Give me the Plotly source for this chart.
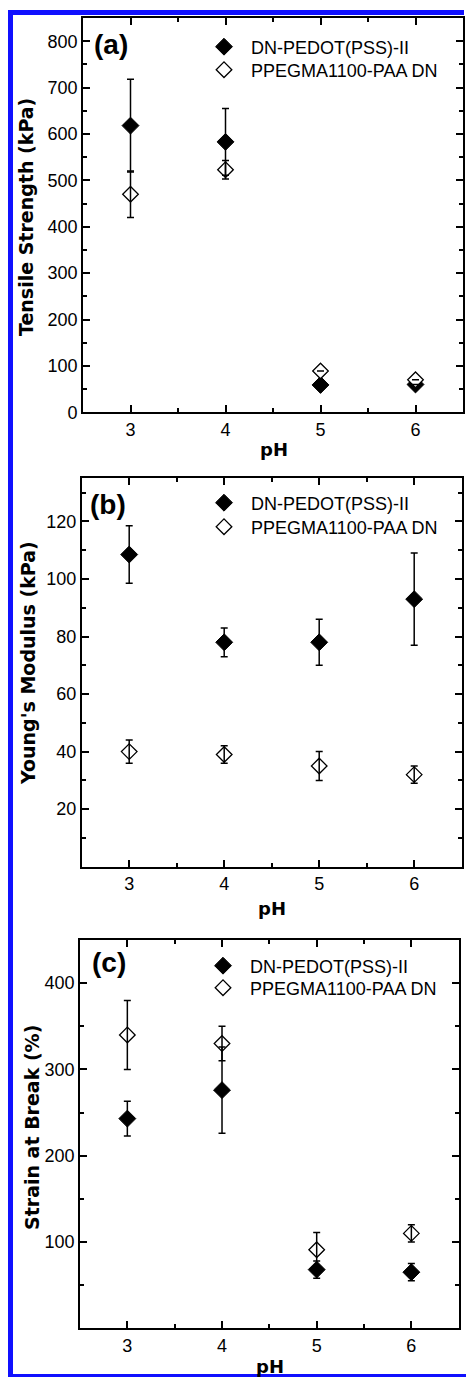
import plotly.graph_objects as go

# ---- data -------------------------------------------------------------
ph = [3, 4, 5, 6]

series_names = ["DN-PEDOT(PSS)-II", "PPEGMA1100-PAA DN"]

# (a) tensile strength, kPa
ts_pedot = [618, 583, 59, 60]
ts_pedot_err = [100, 72, 0, 0]
ts_ppeg = [470, 523, 89, 70]
ts_ppeg_err = [50, 20, 0, 0]

# (b) Young's modulus, kPa
ym_pedot = [108.5, 78, 78, 93]
ym_pedot_err = [10, 5, 8, 16]
ym_ppeg = [40, 39, 35, 32]
ym_ppeg_err = [4, 3, 5, 3]

# (c) strain at break, %
sb_pedot = [243, 276, 68, 65]
sb_pedot_err = [20, 50, 10, 10]
sb_ppeg = [340, 330, 91, 110]
sb_ppeg_err = [40, 20, 20, 10]

# axis settings per panel
x_ticks = [3, 4, 5, 6]
x_minor = [3.5, 4.5, 5.5]
y_titles = ["Tensile Strength (kPa)", "Young's Modulus (kPa)", "Strain at Break (%)"]
y_ranges = [[0, 850], [0, 135], [0, 450]]
y_ticks = [[0, 100, 200, 300, 400, 500, 600, 700, 800],
           [20, 40, 60, 80, 100, 120],
           [100, 200, 300, 400]]
y_minor = [[50, 150, 250, 350, 450, 550, 650, 750],
           [10, 30, 50, 70, 90, 110, 130],
           [50, 150, 250, 350]]
panel_tags = ["(a)", "(b)", "(c)"]

# ---- layout geometry (pixels) ----------------------------------------
W, H = 466, 1377
# plot boxes: left, right, top, bottom
boxes = [(83, 463, 18, 412.3), (81.7, 461.7, 478.3, 866.7), (80, 458.7, 940, 1328.3)]


def px(x):
    return x / W


def py(y):
    return 1 - y / H


SANS = "Liberation Sans, Arial, sans-serif"
BOLD_T = "DejaVu Sans, sans-serif"

fig = go.Figure()

panels = [
    (ts_pedot, ts_pedot_err, ts_ppeg, ts_ppeg_err),
    (ym_pedot, ym_pedot_err, ym_ppeg, ym_ppeg_err),
    (sb_pedot, sb_pedot_err, sb_ppeg, sb_ppeg_err),
]

# one legend per legend row: (panel, series) -> legend id
legend_ids = [["legend", "legend2"], ["legend3", "legend4"], ["legend5", "legend6"]]

for i, (f, fe, o, oe) in enumerate(panels):
    xa = "x" if i == 0 else f"x{i+1}"
    ya = "y" if i == 0 else f"y{i+1}"
    # filled diamonds
    fig.add_trace(go.Scatter(
        x=ph, y=f, mode="markers", name=series_names[0], legend=legend_ids[i][0],
        xaxis=xa, yaxis=ya,
        marker=dict(symbol="diamond", size=13, color="black",
                    line=dict(color="black", width=1)),
    ))
    # open diamonds
    fig.add_trace(go.Scatter(
        x=ph, y=o, mode="markers", name=series_names[1], legend=legend_ids[i][1],
        xaxis=xa, yaxis=ya,
        marker=dict(symbol="diamond", size=12, color="white",
                    line=dict(color="black", width=1.3)),
    ))
    # error bars drawn on top of the symbols
    for vals, errs in ((f, fe), (o, oe)):
        fig.add_trace(go.Scatter(
            x=ph, y=vals, mode="markers", showlegend=False,
            xaxis=xa, yaxis=ya, hoverinfo="skip",
            marker=dict(size=1, opacity=0),
            error_y=dict(type="data", array=errs, visible=True,
                         color="black", thickness=1.5, width=3.5),
        ))

    l, r, t, b = boxes[i]
    axis_common = dict(
        showline=True, linecolor="black", linewidth=1.8, mirror="ticks",
        ticks="inside", ticklen=7, tickwidth=1.8, tickcolor="black",
        showgrid=False, zeroline=False,
        tickfont=dict(family=SANS, size=18, color="black"),
    )
    fig.update_layout(**{
        ("xaxis" if i == 0 else f"xaxis{i+1}"): dict(
            domain=[px(l), px(r)], anchor=ya, range=[2.5, 6.5],
            tickmode="array", tickvals=x_ticks,
            minor=dict(tickmode="array", tickvals=x_minor, ticks="inside",
                       ticklen=4, tickwidth=1.5, tickcolor="black"),
            **axis_common),
        ("yaxis" if i == 0 else f"yaxis{i+1}"): dict(
            domain=[py(b), py(t)], anchor=xa, range=y_ranges[i],
            tickmode="array", tickvals=y_ticks[i],
            minor=dict(tickmode="array", tickvals=y_minor[i], ticks="inside",
                       ticklen=4, tickwidth=1.5, tickcolor="black"),
            **axis_common),
    })

# legend rows: left edge and row centre in pixels
legend_rows = [[(197, 47), (197, 70)], [(197, 503), (197, 527)], [(196, 966), (196, 988)]]
for i in range(3):
    for j in range(2):
        x, y = legend_rows[i][j]
        fig.update_layout(**{legend_ids[i][j]: dict(
            x=px(x), y=py(y), xanchor="left", yanchor="middle",
            bgcolor="rgba(0,0,0,0)", borderwidth=0,
            font=dict(family=SANS, size=18, color="black"),
            itemwidth=44, itemsizing="trace",
        )})

annotations = []
# panel tags
tag_pos = [(111, 45), (108, 505), (109, 963)]
for tag, (x, y) in zip(panel_tags, tag_pos):
    annotations.append(dict(
        text=f"<b>{tag}</b>", x=px(x), y=py(y), xref="paper", yref="paper",
        showarrow=False, xanchor="center", yanchor="middle",
        font=dict(family=SANS, size=28, color="black")))
# y-axis titles
ytitle_pos = [(26, 217), (28, 663), (32, 1128)]
for txt, (x, y) in zip(y_titles, ytitle_pos):
    annotations.append(dict(
        text=f"<b>{txt}</b>", x=px(x), y=py(y), xref="paper", yref="paper",
        showarrow=False, xanchor="center", yanchor="middle", textangle=-90,
        font=dict(family=BOLD_T, size=19, color="black")))
# x-axis titles
xtitle_pos = [(274, 449), (272, 908), (270, 1366)]
for x, y in xtitle_pos:
    annotations.append(dict(
        text="<b>pH</b>", x=px(x), y=py(y), xref="paper", yref="paper",
        showarrow=False, xanchor="center", yanchor="middle",
        font=dict(family=BOLD_T, size=18, color="black")))

# blue frame around the figure (left, top and bottom edges)
blue = "#1010ff"
shapes = [
    dict(type="rect", xref="paper", yref="paper", x0=px(8), x1=px(13),
         y0=py(1377), y1=py(10), fillcolor=blue, line=dict(width=0)),
    dict(type="rect", xref="paper", yref="paper", x0=px(8), x1=px(464),
         y0=py(15), y1=py(10), fillcolor=blue, line=dict(width=0)),
    dict(type="rect", xref="paper", yref="paper", x0=px(8), x1=px(466),
         y0=py(1377), y1=py(1374), fillcolor=blue, line=dict(width=0)),
]

fig.update_layout(
    width=W, height=H,
    margin=dict(l=0, r=0, t=0, b=0, autoexpand=False),
    paper_bgcolor="white", plot_bgcolor="white",
    annotations=annotations, shapes=shapes,
)

fig.write_html("out.html")
